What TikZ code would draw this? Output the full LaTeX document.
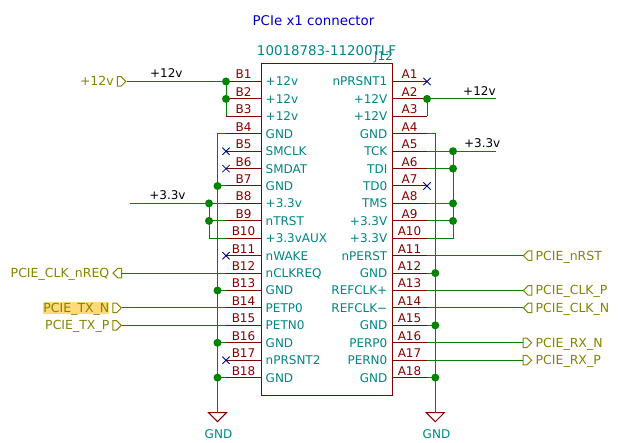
\documentclass[tikz,border=0pt]{standalone}
\usepackage{xcolor}
\usepackage{fontspec}
\setmainfont{DejaVu Sans}
\usetikzlibrary{positioning, shapes.misc, shapes.symbols}
\definecolor{wirecol}{HTML}{008400}
\definecolor{pincol}{HTML}{840000}
\definecolor{namecol}{HTML}{008484}
\definecolor{portcol}{HTML}{848400}
\definecolor{nccol}{HTML}{000084}
\definecolor{titlecol}{HTML}{0000C2}
\definecolor{marked}{HTML}{FFD97A}
\tikzset{
  txt/.style={inner sep=0pt, text height=9pt, text depth=0pt, font=\fontsize{12}{12}\selectfont},
  pinright/.style={txt, namecol, anchor=west, inner xsep=4.5pt},
  pinleft/.style={txt, namecol, anchor=east, inner xsep=4.5pt},
  pinline/.style={pincol, line width=1pt},
  pinnum/.style={txt, pincol, midway, above, inner ysep=2pt},
  wire/.style={wirecol, line width=1pt},
  junction/.style={circle, fill=wirecol, inner sep=0pt, minimum size=8pt},
  nc/.style={cross out, draw=nccol, line width=0.8pt, inner sep=0pt, minimum size=6.5pt},
  port/.style={signal, draw=portcol, line width=1pt, signal from=nowhere, inner sep=0pt, minimum width=8.5pt, minimum height=9.5pt},
  portname/.style={txt, portcol, font=\fontsize{12.5}{12.5}\selectfont},
  netname/.style={txt, black, above},
  symb/.style={pincol, line width=1pt}
}
\begin{document}
\begin{tikzpicture}[x=1pt, y=-1pt]
    \useasboundingbox (0,0) rectangle (622,443);
    \node[txt, titlecol, font=\fontsize{13.4}{13.4}\selectfont] (title) at (313.5,21) {PCIe x1 connector};
    \node[rectangle, draw=pincol, line width=1pt, inner sep=0pt, minimum width=131pt, minimum height=331.5pt] (conn) at (326.5,229.75) {};
    \node[txt, namecol, font=\fontsize{13.4}{13.4}\selectfont] (partno) at (326.5,51) {10018783-11200TLF};
    \node[txt, namecol] (refdes) at (383.5,56) {J12};

    % left pins
    \node[pinright] (B1) at (261,81.5) {+12v};
    \draw[pinline] (B1.west) -- node[pinnum] (nB1) {B1} ++(-35,0) coordinate (pB1);
    \node[pinright] (B2) at (261,98.9) {+12v};
    \draw[pinline] (B2.west) -- node[pinnum] (nB2) {B2} ++(-35,0) coordinate (pB2);
    \node[pinright] (B3) at (261,116.3) {+12v};
    \draw[pinline] (B3.west) -- node[pinnum] (nB3) {B3} ++(-35,0) coordinate (pB3);
    \node[pinright] (B4) at (261,133.8) {GND};
    \draw[pinline] (B4.west) -- node[pinnum] (nB4) {B4} ++(-35,0) coordinate (pB4);
    \node[pinright] (B5) at (261,151.2) {SMCLK};
    \draw[pinline] (B5.west) -- node[pinnum] (nB5) {B5} ++(-35,0) coordinate (pB5);
    \node[pinright] (B6) at (261,168.6) {SMDAT};
    \draw[pinline] (B6.west) -- node[pinnum] (nB6) {B6} ++(-35,0) coordinate (pB6);
    \node[pinright] (B7) at (261,186) {GND};
    \draw[pinline] (B7.west) -- node[pinnum] (nB7) {B7} ++(-35,0) coordinate (pB7);
    \node[pinright] (B8) at (261,203.4) {+3.3v};
    \draw[pinline] (B8.west) -- node[pinnum] (nB8) {B8} ++(-35,0) coordinate (pB8);
    \node[pinright] (B9) at (261,220.9) {nTRST};
    \draw[pinline] (B9.west) -- node[pinnum] (nB9) {B9} ++(-35,0) coordinate (pB9);
    \node[pinright] (B10) at (261,238.3) {+3.3vAUX};
    \draw[pinline] (B10.west) -- node[pinnum] (nB10) {B10} ++(-35,0) coordinate (pB10);
    \node[pinright] (B11) at (261,255.7) {nWAKE};
    \draw[pinline] (B11.west) -- node[pinnum] (nB11) {B11} ++(-35,0) coordinate (pB11);
    \node[pinright] (B12) at (261,273.1) {nCLKREQ};
    \draw[pinline] (B12.west) -- node[pinnum] (nB12) {B12} ++(-35,0) coordinate (pB12);
    \node[pinright] (B13) at (261,290.5) {GND};
    \draw[pinline] (B13.west) -- node[pinnum] (nB13) {B13} ++(-35,0) coordinate (pB13);
    \node[pinright] (B14) at (261,308) {PETP0};
    \draw[pinline] (B14.west) -- node[pinnum] (nB14) {B14} ++(-35,0) coordinate (pB14);
    \node[pinright] (B15) at (261,325.4) {PETN0};
    \draw[pinline] (B15.west) -- node[pinnum] (nB15) {B15} ++(-35,0) coordinate (pB15);
    \node[pinright] (B16) at (261,342.8) {GND};
    \draw[pinline] (B16.west) -- node[pinnum] (nB16) {B16} ++(-35,0) coordinate (pB16);
    \node[pinright] (B17) at (261,360.2) {nPRSNT2};
    \draw[pinline] (B17.west) -- node[pinnum] (nB17) {B17} ++(-35,0) coordinate (pB17);
    \node[pinright] (B18) at (261,377.6) {GND};
    \draw[pinline] (B18.west) -- node[pinnum] (nB18) {B18} ++(-35,0) coordinate (pB18);

    % right pins
    \node[pinleft] (A1) at (392,81.5) {nPRSNT1};
    \draw[pinline] (A1.east) -- node[pinnum] (nA1) {A1} ++(35,0) coordinate (pA1);
    \node[pinleft] (A2) at (392,98.9) {+12V};
    \draw[pinline] (A2.east) -- node[pinnum] (nA2) {A2} ++(35,0) coordinate (pA2);
    \node[pinleft] (A3) at (392,116.3) {+12V};
    \draw[pinline] (A3.east) -- node[pinnum] (nA3) {A3} ++(35,0) coordinate (pA3);
    \node[pinleft] (A4) at (392,133.8) {GND};
    \draw[pinline] (A4.east) -- node[pinnum] (nA4) {A4} ++(35,0) coordinate (pA4);
    \node[pinleft] (A5) at (392,151.2) {TCK};
    \draw[pinline] (A5.east) -- node[pinnum] (nA5) {A5} ++(35,0) coordinate (pA5);
    \node[pinleft] (A6) at (392,168.6) {TDI};
    \draw[pinline] (A6.east) -- node[pinnum] (nA6) {A6} ++(35,0) coordinate (pA6);
    \node[pinleft] (A7) at (392,186) {TD0};
    \draw[pinline] (A7.east) -- node[pinnum] (nA7) {A7} ++(35,0) coordinate (pA7);
    \node[pinleft] (A8) at (392,203.4) {TMS};
    \draw[pinline] (A8.east) -- node[pinnum] (nA8) {A8} ++(35,0) coordinate (pA8);
    \node[pinleft] (A9) at (392,220.9) {+3.3V};
    \draw[pinline] (A9.east) -- node[pinnum] (nA9) {A9} ++(35,0) coordinate (pA9);
    \node[pinleft] (A10) at (392,238.3) {+3.3V};
    \draw[pinline] (A10.east) -- node[pinnum] (nA10) {A10} ++(35,0) coordinate (pA10);
    \node[pinleft] (A11) at (392,255.7) {nPERST};
    \draw[pinline] (A11.east) -- node[pinnum] (nA11) {A11} ++(35,0) coordinate (pA11);
    \node[pinleft] (A12) at (392,273.1) {GND};
    \draw[pinline] (A12.east) -- node[pinnum] (nA12) {A12} ++(35,0) coordinate (pA12);
    \node[pinleft] (A13) at (392,290.5) {REFCLK+};
    \draw[pinline] (A13.east) -- node[pinnum] (nA13) {A13} ++(35,0) coordinate (pA13);
    \node[pinleft] (A14) at (392,308) {REFCLK−};
    \draw[pinline] (A14.east) -- node[pinnum] (nA14) {A14} ++(35,0) coordinate (pA14);
    \node[pinleft] (A15) at (392,325.4) {GND};
    \draw[pinline] (A15.east) -- node[pinnum] (nA15) {A15} ++(35,0) coordinate (pA15);
    \node[pinleft] (A16) at (392,342.8) {PERP0};
    \draw[pinline] (A16.east) -- node[pinnum] (nA16) {A16} ++(35,0) coordinate (pA16);
    \node[pinleft] (A17) at (392,360.2) {PERN0};
    \draw[pinline] (A17.east) -- node[pinnum] (nA17) {A17} ++(35,0) coordinate (pA17);
    \node[pinleft] (A18) at (392,377.6) {GND};
    \draw[pinline] (A18.east) -- node[pinnum] (nA18) {A18} ++(35,0) coordinate (pA18);

    % not connected
    \node[nc] (xB5) at (pB5) {};
    \node[nc] (xB6) at (pB6) {};
    \node[nc] (xB11) at (pB11) {};
    \node[nc] (xB17) at (pB17) {};
    \node[nc] (xA1) at (pA1) {};
    \node[nc] (xA7) at (pA7) {};

    % ports
    \node[port, signal to=east, anchor=east] (p12v) at (126.5,81.5) {};
    \node[portname, anchor=east] (l12v) at (114,81.5) {+12v};
    \node[port, signal to=west, anchor=east] (pnreq) at (122,273.1) {};
    \node[portname, anchor=east] (lnreq) at (109.5,273.1) {PCIE\_CLK\_nREQ};
    \node[port, signal to=east, anchor=east] (ptxn) at (122,308) {};
    \node[portname, anchor=east, fill=marked, inner ysep=1.5pt] (ltxn) at (109.5,308) {PCIE\_TX\_N};
    \node[port, signal to=east, anchor=east] (ptxp) at (122,325.4) {};
    \node[portname, anchor=east] (ltxp) at (109.5,325.4) {PCIE\_TX\_P};
    \node[port, signal to=west, anchor=west] (prst) at (522.7,255.7) {};
    \node[portname, anchor=west] (lrst) at (535.5,255.7) {PCIE\_nRST};
    \node[port, signal to=west, anchor=west] (pclkp) at (522.7,290.5) {};
    \node[portname, anchor=west] (lclkp) at (535.5,290.5) {PCIE\_CLK\_P};
    \node[port, signal to=west, anchor=west] (pclkn) at (522.7,308) {};
    \node[portname, anchor=west] (lclkn) at (535.5,308) {PCIE\_CLK\_N};
    \node[port, signal to=east, anchor=west] (prxn) at (522.7,342.8) {};
    \node[portname, anchor=west] (lrxn) at (535.5,342.8) {PCIE\_RX\_N};
    \node[port, signal to=east, anchor=west] (prxp) at (522.7,360.2) {};
    \node[portname, anchor=west] (lrxp) at (535.5,360.2) {PCIE\_RX\_P};

    % ground symbols
    \coordinate (gndL) at (217.5,412.7);
    \coordinate (gndR) at (435.3,412.7);
    \draw[symb] (gndL) ++(-9,0) -- ++(18,0) -- ++(-9,9) -- cycle;
    \draw[symb] (gndR) ++(-9,0) -- ++(18,0) -- ++(-9,9) -- cycle;
    \node[txt, namecol] (tgndL) at (218.5,434.5) {GND};
    \node[txt, namecol] (tgndR) at (436.5,434.5) {GND};

    % wires
    \draw[wire] (p12v.east) -- node[netname, inner ysep=3pt, pos=0.4] (n12vL) {+12v} (pB1);
    \draw[wire] (pB1) -- (pB3);
    \coordinate (v33L) at (130,203.4);
    \draw[wire] (v33L) -- node[netname, inner ysep=3pt, pos=0.39] (n33L) {+3.3v} (pB8);
    \coordinate (j33) at (209,203.4);
    \draw[wire] (j33) |- (pB10);
    \draw[wire] (pB9) -- (pB9 -| j33);
    \draw[wire] (pB4) -| (gndL);
    \draw[wire] (pB7) -- (pB7 -| gndL);
    \draw[wire] (pB13) -- (pB13 -| gndL);
    \draw[wire] (pB16) -- (pB16 -| gndL);
    \draw[wire] (pB18) -- (pB18 -| gndL);
    \draw[wire] (pB12) -- (pnreq.east);
    \draw[wire] (pB14) -- (ptxn.east);
    \draw[wire] (pB15) -- (ptxp.east);

    \coordinate (v12R) at (496,98.9);
    \draw[wire] (pA2) -- node[netname, inner ysep=3pt, pos=0.76] (n12vR) {+12v} (v12R);
    \draw[wire] (pA2) -- (pA3);
    \coordinate (v33R) at (496,151.2);
    \draw[wire] (pA5) -- node[netname, inner ysep=3pt, pos=0.8] (n33R) {+3.3v} (v33R);
    \coordinate (j33R) at (453,151.2);
    \draw[wire] (j33R) |- (pA10);
    \draw[wire] (pA6) -- (pA6 -| j33R);
    \draw[wire] (pA8) -- (pA8 -| j33R);
    \draw[wire] (pA9) -- (pA9 -| j33R);
    \draw[wire] (pA4) -| (gndR);
    \draw[wire] (pA12) -- (pA12 -| gndR);
    \draw[wire] (pA15) -- (pA15 -| gndR);
    \draw[wire] (pA18) -- (pA18 -| gndR);
    \draw[wire] (pA11) -- (prst.west);
    \draw[wire] (pA13) -- (pclkp.west);
    \draw[wire] (pA14) -- (pclkn.west);
    \draw[wire] (pA16) -- (prxn.west);
    \draw[wire] (pA17) -- (prxp.west);

    % junctions
    \node[junction] (j1) at (pB1) {};
    \node[junction] (j2) at (pB2) {};
    \node[junction] (j3) at (pB7 -| gndL) {};
    \node[junction] (j4) at (j33) {};
    \node[junction] (j5) at (pB9 -| j33) {};
    \node[junction] (j6) at (pB13 -| gndL) {};
    \node[junction] (j7) at (pB16 -| gndL) {};
    \node[junction] (j8) at (pB18 -| gndL) {};
    \node[junction] (j9) at (pA2) {};
    \node[junction] (j10) at (j33R) {};
    \node[junction] (j11) at (pA6 -| j33R) {};
    \node[junction] (j12) at (pA8 -| j33R) {};
    \node[junction] (j13) at (pA9 -| j33R) {};
    \node[junction] (j14) at (pA12 -| gndR) {};
    \node[junction] (j15) at (pA15 -| gndR) {};
    \node[junction] (j16) at (pA18 -| gndR) {};
\end{tikzpicture}
\end{document}
